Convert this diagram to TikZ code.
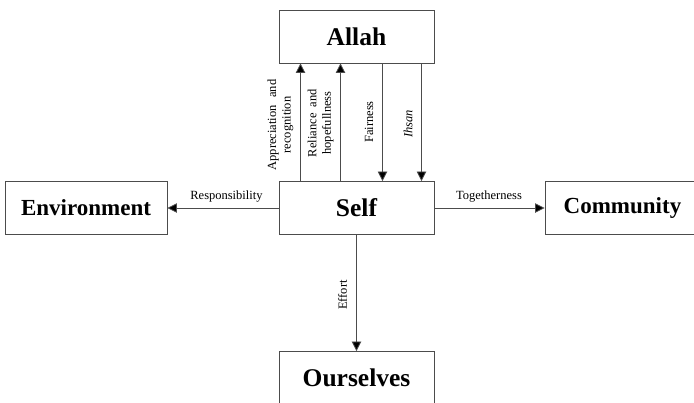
\documentclass[tikz,border=0pt]{standalone}
\usepackage{fontspec}
\setmainfont{Liberation Serif}
\usetikzlibrary{arrows.meta}
\begin{document}
\begin{tikzpicture}[x=1pt,y=-1pt,
  box/.style={draw=black!70, line width=0.9pt, minimum width=155pt, minimum height=53pt, inner sep=0pt, font=\fontsize{25.5}{28}\selectfont\bfseries},
  sbox/.style={box, font=\fontsize{23}{26}\selectfont\bfseries},
  conn/.style={draw=black!70, line width=0.8pt, -{Triangle[length=9.5pt,width=9.5pt,fill=black]}},
  lbl/.style={font=\fontsize{12.5}{14.5}\selectfont, inner sep=1pt, align=center}
]
\useasboundingbox[fill=white] (0,0) rectangle (694,402);
\node[box] (allah) at (356.5,36.5) {Allah};
\node[box] (self) at (356.5,208) {Self};
\node[sbox, minimum width=162pt] (env) at (86,208) {Environment};
\node[sbox] (comm) at (622.5,208) {Community};
\node[box] (ours) at (356.5,378) {Ourselves};

\draw[conn] ([xshift=-56pt]self.north) -- ([xshift=-56pt]allah.south);
\draw[conn] ([xshift=-16pt]self.north) -- ([xshift=-16pt]allah.south);
\draw[conn] ([xshift=26pt]allah.south) -- ([xshift=26pt]self.north);
\draw[conn] ([xshift=65pt]allah.south) -- ([xshift=65pt]self.north);
\draw[conn] (self.west) -- (env.east);
\draw[conn] (self.east) -- (comm.west);
\draw[conn] (self.south) -- (ours.north);

\node[lbl, rotate=90] (l1) at (280.5,125) {Appreciation\hspace{0.6em}and\\recognition};
\node[lbl, rotate=90] (l2) at (320.5,123) {Reliance\hspace{0.5em}and\\hopefullness};
\node[lbl, rotate=90] (l3) at (369,122) {Fairness};
\node[lbl, rotate=90] (l4) at (408,124) {\itshape Ihsan};
\node[lbl] (l5) at (226.5,197) {Responsibility};
\node[lbl] (l6) at (489,196.5) {Togetherness};
\node[lbl, rotate=90] (l7) at (342.5,295) {Effort};
\end{tikzpicture}
\end{document}
